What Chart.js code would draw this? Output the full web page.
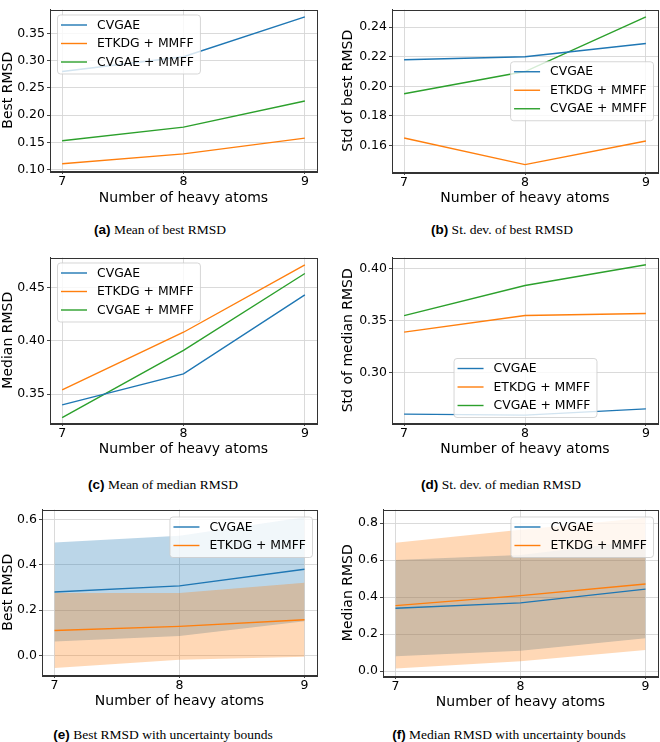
<!DOCTYPE html>
<html>
<head>
<meta charset="utf-8">
<script src="https://cdn.jsdelivr.net/npm/chart.js@4.4.0/dist/chart.umd.min.js"></script>
<style>
  html, body { margin: 0; padding: 0; background: #fff; }
  #fig { position: relative; width: 660px; height: 742px; overflow: hidden; }
  canvas { position: absolute; }
  .cap { position: absolute; font-family: "Liberation Serif", "Times New Roman", serif; font-size: 13.5px;
         color: #000; white-space: nowrap; transform: translateX(-50%); line-height: 1; }
  .cap b { font-family: "Liberation Sans", Arial, sans-serif; font-weight: bold; }
</style>
</head>
<body>
<div id="fig">
  <canvas id="ca"></canvas><canvas id="cb"></canvas>
  <canvas id="cc"></canvas><canvas id="cd"></canvas>
  <canvas id="ce"></canvas><canvas id="cf"></canvas>
  <div class="cap" style="left:160px;top:223px"><b>(a)</b> Mean of best RMSD</div>
  <div class="cap" style="left:502px;top:223px"><b>(b)</b> St. dev. of best RMSD</div>
  <div class="cap" style="left:163px;top:478px"><b>(c)</b> Mean of median RMSD</div>
  <div class="cap" style="left:501px;top:478px"><b>(d)</b> St. dev. of median RMSD</div>
  <div class="cap" style="left:163px;top:728px"><b>(e)</b> Best RMSD with uncertainty bounds</div>
  <div class="cap" style="left:509px;top:728px"><b>(f)</b> Median RMSD with uncertainty bounds</div>
</div>
<script>
// number of heavy atoms
const atoms = [7, 8, 9];

// mean of best RMSD
const bestMeanCvgae = [0.280, 0.307, 0.380];
const bestMeanEtkdg = [0.111, 0.129, 0.158];
const bestMeanCvgaeMmff = [0.153, 0.178, 0.226];

// std of best RMSD
const bestStdCvgae = [0.218, 0.220, 0.229];
const bestStdEtkdg = [0.165, 0.147, 0.163];
const bestStdCvgaeMmff = [0.195, 0.210, 0.247];

// mean of median RMSD
const medMeanCvgae = [0.340, 0.369, 0.443];
const medMeanEtkdg = [0.354, 0.408, 0.471];
const medMeanCvgaeMmff = [0.328, 0.391, 0.463];

// std of median RMSD
const medStdCvgae = [0.260, 0.259, 0.265];
const medStdEtkdg = [0.339, 0.355, 0.357];
const medStdCvgaeMmff = [0.355, 0.384, 0.404];

// uncertainty bounds (e): best RMSD
const bestBandCvgaeLow = [0.062, 0.087, 0.151];
const bestBandCvgaeHigh = [0.498, 0.527, 0.609];
const bestBandEtkdgLow = [-0.054, -0.018, -0.005];
const bestBandEtkdgHigh = [0.276, 0.276, 0.321];

// uncertainty bounds (f): median RMSD
const medBandCvgaeLow = [0.080, 0.110, 0.178];
const medBandCvgaeHigh = [0.600, 0.628, 0.708];
const medBandEtkdgLow = [0.015, 0.053, 0.114];
const medBandEtkdgHigh = [0.693, 0.763, 0.828];

// tick labels
const xTickLabels = ['7', '8', '9'];
const yTicksA = ['0.10', '0.15', '0.20', '0.25', '0.30', '0.35'];
const yTicksB = ['0.16', '0.18', '0.20', '0.22', '0.24'];
const yTicksC = ['0.35', '0.40', '0.45'];
const yTicksD = ['0.30', '0.35', '0.40'];
const yTicksE = ['0.0', '0.2', '0.4', '0.6'];
const yTicksF = ['0.0', '0.2', '0.4', '0.6', '0.8'];

const BLUE = '#1f77b4', ORANGE = '#ff7f0e', GREEN = '#2ca02c';
const FONT = 'DejaVu Sans';

function pts(ys) { return ys.map((y, i) => ({ x: atoms[i], y: y })); }

function line(label, ys, color) {
    return { label: label, data: pts(ys), borderColor: color, backgroundColor: color,
             borderWidth: 1.4, pointRadius: 0, tension: 0, fill: false };
}
function band(ys, color, fillTo) {
    return { data: pts(ys), borderWidth: 0, borderColor: 'rgba(0,0,0,0)', pointRadius: 0,
             backgroundColor: color, fill: fillTo, band: true };
}

// legend box drawn inside the axes, matplotlib style
const boxLegend = {
    id: 'boxLegend',
    afterDatasetsDraw(chart, args, opts) {
        const ctx = chart.ctx, a = chart.chartArea;
        const items = chart.data.datasets.filter(d => !d.band);
        ctx.save();
        ctx.font = '12.4px "' + FONT + '"';
        const tw = Math.max(...items.map(d => ctx.measureText(d.label).width));
        const w = 4 + 26 + 10 + tw + 6;
        const rowH = 18.5;
        const h = rowH * (items.length - 1) + 22;
        let x, y;
        if (opts.loc === 'ul') { x = a.left + 7; y = a.top + 5; }
        else if (opts.loc === 'ur') { x = a.right - 5 - w; y = a.top + 7; }
        else if (opts.loc === 'cr') { x = a.right - 5 - w; y = (a.top + a.bottom) / 2 - h / 2; }
        else { x = (a.left + a.right) / 2 - w / 2; y = a.bottom - 6 - h; }
        ctx.beginPath();
        ctx.roundRect(x + 0.5, y + 0.5, w, h, 3);
        ctx.fillStyle = 'rgba(255,255,255,0.8)';
        ctx.fill();
        ctx.strokeStyle = 'rgba(204,204,204,0.8)';
        ctx.lineWidth = 1;
        ctx.stroke();
        items.forEach((d, i) => {
            const cy = y + 10.5 + i * rowH;
            ctx.beginPath();
            ctx.moveTo(x + 4, cy);
            ctx.lineTo(x + 30, cy);
            ctx.strokeStyle = d.borderColor;
            ctx.lineWidth = 1.4;
            ctx.stroke();
            ctx.fillStyle = '#000';
            ctx.textBaseline = 'middle';
            ctx.textAlign = 'left';
            ctx.fillText(d.label, x + 40, cy + 0.5);
        });
        ctx.restore();
    }
};

// box around the axes (all four spines)
const frame = {
    id: 'frame',
    afterDraw(chart) {
        const ctx = chart.ctx, a = chart.chartArea;
        ctx.save();
        ctx.strokeStyle = '#333';
        ctx.lineWidth = 1;
        ctx.strokeRect(Math.round(a.left) + 0.5, Math.round(a.top) + 0.5,
                       Math.round(a.right - a.left), Math.round(a.bottom - a.top));
        ctx.restore();
    }
};

function makeChart(id, pos, datasets, yTicks, yMin, yMax, yTitle, loc) {
    const cv = document.getElementById(id);
    cv.style.left = pos.L + 'px';
    cv.style.top = pos.T + 'px';
    cv.width = pos.W;
    cv.height = pos.H;
    cv.style.width = pos.W + 'px';
    cv.style.height = pos.H + 'px';
    const yVals = yTicks.map(Number);
    return new Chart(cv, {
        type: 'line',
        data: { datasets: datasets },
        options: {
            responsive: false,
            animation: false,
            layout: { padding: { left: 0, right: pos.R, top: pos.Tp, bottom: 0 } },
            scales: {
                x: {
                    type: 'linear', min: 6.9, max: 9.1,
                    afterBuildTicks: s => { s.ticks = atoms.map(v => ({ value: v })); },
                    afterFit: s => { s.height = pos.Hx; },
                    ticks: { callback: (v, i) => xTickLabels[i], color: '#000', padding: 0,
                             maxRotation: 0, font: { family: FONT, size: 12.5 } },
                    grid: { color: '#d6d6d6', lineWidth: 0.9, tickLength: 3, tickColor: '#333' },
                    border: { color: '#333' },
                    title: { display: true, text: 'Number of heavy atoms', color: '#000',
                             padding: 0, font: { family: FONT, size: 14 } }
                },
                y: {
                    type: 'linear', min: yMin, max: yMax,
                    afterBuildTicks: s => { s.ticks = yVals.map(v => ({ value: v })); },
                    afterFit: s => { s.width = pos.Wy; },
                    ticks: { callback: (v, i) => yTicks[i], color: '#000', padding: 2,
                             font: { family: FONT, size: 12.5 } },
                    grid: { color: '#d6d6d6', lineWidth: 0.9, tickLength: 3, tickColor: '#333' },
                    border: { color: '#333' },
                    title: { display: true, text: yTitle, color: '#000',
                             padding: 0, font: { family: FONT, size: 14 } }
                }
            },
            plugins: {
                legend: { display: false },
                tooltip: { enabled: false },
                filler: { drawTime: 'beforeDatasetsDraw' },
                boxLegend: { loc: loc }
            }
        },
        plugins: [boxLegend, frame]
    });
}

makeChart('ca', { L: 0, T: 0, W: 330, H: 207, R: 13, Tp: 1, Wy: 50, Hx: 36 }, [
    line('CVGAE', bestMeanCvgae, BLUE),
    line('ETKDG + MMFF', bestMeanEtkdg, ORANGE),
    line('CVGAE + MMFF', bestMeanCvgaeMmff, GREEN)
], yTicksA, 0.0977, 0.3935, 'Best RMSD', 'ul');

makeChart('cb', { L: 340, T: 0, W: 320, H: 207, R: 2, Tp: 0, Wy: 52, Hx: 35 }, [
    line('CVGAE', bestStdCvgae, BLUE),
    line('ETKDG + MMFF', bestStdEtkdg, ORANGE),
    line('CVGAE + MMFF', bestStdCvgaeMmff, GREEN)
], yTicksB, 0.142, 0.252, 'Std of best RMSD', 'cr');

makeChart('cc', { L: 0, T: 248, W: 330, H: 210, R: 13, Tp: 4, Wy: 50, Hx: 35 }, [
    line('CVGAE', medMeanCvgae, BLUE),
    line('ETKDG + MMFF', medMeanEtkdg, ORANGE),
    line('CVGAE + MMFF', medMeanCvgaeMmff, GREEN)
], yTicksC, 0.323, 0.478, 'Median RMSD', 'ul');

makeChart('cd', { L: 340, T: 248, W: 320, H: 210, R: 2, Tp: 4, Wy: 52, Hx: 35 }, [
    line('CVGAE', medStdCvgae, BLUE),
    line('ETKDG + MMFF', medStdEtkdg, ORANGE),
    line('CVGAE + MMFF', medStdCvgaeMmff, GREEN)
], yTicksD, 0.2514, 0.411, 'Std of median RMSD', 'lc');

// fills are painted last-to-first, so the orange band is listed first to end up on top
makeChart('ce', { L: 0, T: 500, W: 330, H: 210, R: 13, Tp: 4, Wy: 42, Hx: 35 }, [
    band(bestBandEtkdgLow, 'rgba(0,0,0,0)', false),
    band(bestBandEtkdgHigh, 'rgba(255,127,14,0.3)', '-1'),
    band(bestBandCvgaeLow, 'rgba(0,0,0,0)', false),
    band(bestBandCvgaeHigh, 'rgba(31,119,180,0.3)', '-1'),
    line('CVGAE', bestMeanCvgae, BLUE),
    line('ETKDG + MMFF', bestMeanEtkdg, ORANGE)
], yTicksE, -0.085, 0.643, 'Best RMSD', 'ur');

makeChart('cf', { L: 340, T: 500, W: 320, H: 211, R: 2, Tp: 4, Wy: 43, Hx: 35 }, [
    band(medBandEtkdgLow, 'rgba(0,0,0,0)', false),
    band(medBandEtkdgHigh, 'rgba(255,127,14,0.3)', '-1'),
    band(medBandCvgaeLow, 'rgba(0,0,0,0)', false),
    band(medBandCvgaeHigh, 'rgba(31,119,180,0.3)', '-1'),
    line('CVGAE', medMeanCvgae, BLUE),
    line('ETKDG + MMFF', medMeanEtkdg, ORANGE)
], yTicksF, -0.026, 0.873, 'Median RMSD', 'ur');
</script>
</body>
</html>
